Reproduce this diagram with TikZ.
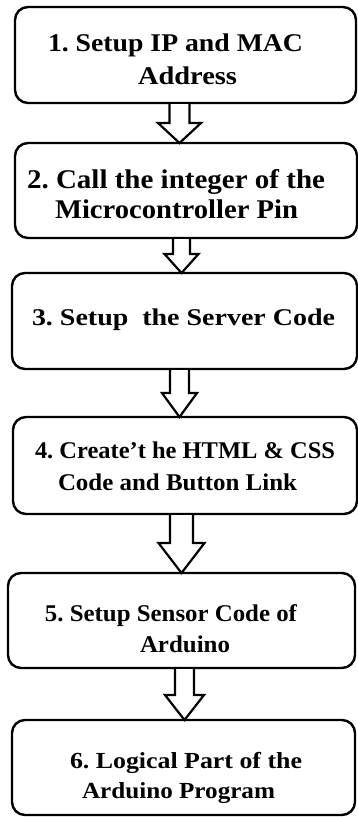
\documentclass[tikz,border=0pt]{standalone}
\usepackage{fontspec}
\setmainfont{Liberation Serif}
\usepackage{graphicx}
\usetikzlibrary{calc}
\frenchspacing
\newcommand\tline[3]{\resizebox{#2pt}{\height}{\fontsize{#1}{#1}\selectfont\bfseries #3}}
\newcommand\barrow[6]{%
\draw[arr] let \p1=(#1.south), \p2=(#2.north) in
 (#3pt-#4pt,\y1-1.1pt) -- (#3pt-#4pt,\y2+#6pt) -- (#3pt-#5pt,\y2+#6pt) -- (#3pt,\y2)
 -- (#3pt+#5pt,\y2+#6pt) -- (#3pt+#4pt,\y2+#6pt) -- (#3pt+#4pt,\y1-1.1pt);
}
\begin{document}
\begin{tikzpicture}[x=1pt,y=-1pt,
 box/.style={draw, line width=2.4pt, rounded corners=13pt, outer sep=0pt, inner sep=0pt},
 txt/.style={anchor=base west, inner sep=0pt, outer sep=0pt},
 arr/.style={draw, line width=2.2pt, fill=white, line join=miter}]
\useasboundingbox (0,0) rectangle (358,817);
\fill[white] (0,0) rectangle (358,817);

\node[box, minimum width=341pt, minimum height=96pt] (b1) at (185.5,55) {};
\node[box, minimum width=342pt, minimum height=95pt] (b2) at (186,190.5) {};
\node[box, minimum width=345pt, minimum height=96pt] (b3) at (184.5,321) {};
\node[box, minimum width=344pt, minimum height=97pt] (b4) at (185,465.5) {};
\node[box, minimum width=347pt, minimum height=95pt] (b5) at (181.5,620.5) {};
\node[box, minimum width=343pt, minimum height=95pt] (b6) at (183.5,767.5) {};

\node[txt] (t1a) at (48,51) {\tline{25.5}{255}{1. Setup IP and MAC}};
\node[txt] (t1b) at (138,84) {\tline{25.5}{99}{Address}};
\node[txt] (t2a) at (27,188) {\tline{27}{298}{2. Call the integer of the}};
\node[txt] (t2b) at (55,218) {\tline{27}{243}{Microcontroller Pin}};
\node[txt] (t3) at (32,325) {\tline{24}{303}{3. Setup\ \ the Server Code}};
\node[txt] (t4a) at (35,458) {\tline{24}{300}{4. Create't he HTML \& CSS}};
\node[txt] (t4b) at (58,490) {\tline{24}{239}{Code and Button Link}};
\node[txt] (t5a) at (45,621) {\tline{24}{252}{5. Setup Sensor Code of}};
\node[txt] (t5b) at (140,652) {\tline{24}{90}{Arduino}};
\node[txt] (t6a) at (70,768) {\tline{23}{232}{6. Logical Part of the}};
\node[txt] (t6b) at (82,798) {\tline{23}{193}{Arduino Program}};

\barrow{b1}{b2}{179.5}{10}{21.5}{20}
\barrow{b2}{b3}{181.5}{8.5}{17}{19}
\barrow{b3}{b4}{179.5}{9.5}{17.5}{24}
\barrow{b4}{b5}{181.5}{11.5}{23}{30}
\barrow{b5}{b6}{184.5}{9.5}{19.5}{25}
\end{tikzpicture}
\end{document}
